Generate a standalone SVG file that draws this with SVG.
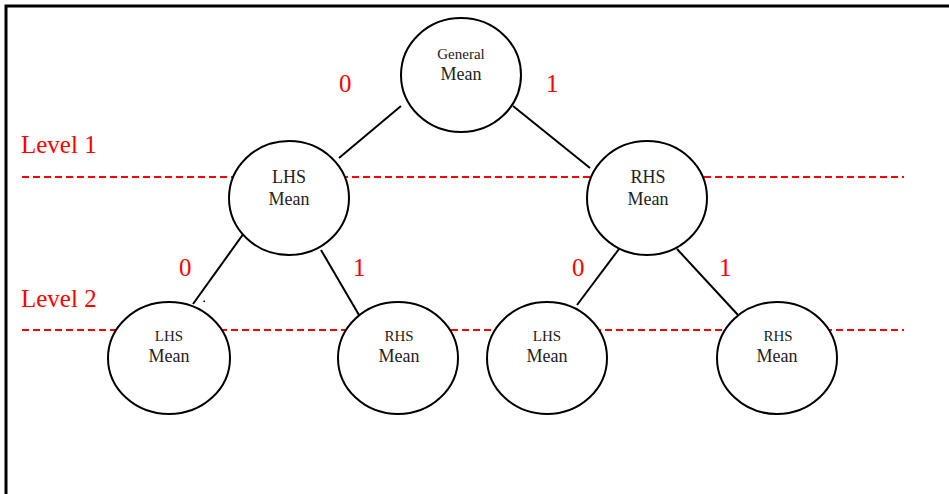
<svg xmlns="http://www.w3.org/2000/svg" width="949" height="494" viewBox="0 0 949 494">
  <style>
    .frame { fill: none; stroke: #000; stroke-width: 3; }
    .level { stroke: #ff0000; stroke-width: 2; stroke-dasharray: 7 4; fill: none; }
    .edge { stroke: #000; stroke-width: 2; fill: none; }
    .node ellipse { fill: #fff; stroke: #000; stroke-width: 2; }
    .lbl { font-family: "Liberation Serif", "Times New Roman", serif; fill: #222; text-anchor: middle; }
    .red { font-family: "Liberation Serif", "Times New Roman", serif; fill: #ff0000; }
  </style>

  <rect width="949" height="494" fill="#fff"/>
  <!-- page frame: top and left rules -->
  <path class="frame" d="M6,494 V6 H949"/>

  <!-- level guides -->
  <g id="levels">
    <line class="level" x1="22" y1="177" x2="904" y2="177"/>
    <line class="level" x1="22" y1="330" x2="904" y2="330"/>
    <text class="red" x="21" y="153" font-size="25">Level 1</text>
    <text class="red" x="21" y="307" font-size="25">Level 2</text>
  </g>

  <!-- branches -->
  <g id="connectors">
    <line class="edge" x1="401" y1="106" x2="339" y2="158"/>
    <line class="edge" x1="513" y1="106" x2="590" y2="168"/>
    <line class="edge" x1="244" y1="233" x2="193" y2="304"/>
    <line class="edge" x1="321" y1="250" x2="359" y2="315"/>
    <line class="edge" x1="619" y1="249" x2="577" y2="305"/>
    <line class="edge" x1="677" y1="249" x2="738" y2="315"/>
    <rect x="203.5" y="300.5" width="1.5" height="1.5" fill="#000"/>
  </g>

  <!-- branch labels -->
  <g id="branch-labels" font-size="25">
    <text class="red" x="339" y="92">0</text>
    <text class="red" x="546" y="92">1</text>
    <text class="red" x="179" y="276">0</text>
    <text class="red" x="353" y="276">1</text>
    <text class="red" x="572" y="276">0</text>
    <text class="red" x="719" y="276">1</text>
  </g>

  <g id="general-mean" class="node">
    <ellipse cx="461" cy="75" rx="60" ry="57"/>
    <text class="lbl" x="461" y="59" font-size="15">General</text>
    <text class="lbl" x="461" y="80" font-size="18">Mean</text>
  </g>

  <g id="l1-lhs" class="node">
    <ellipse cx="289" cy="198" rx="60" ry="57"/>
    <text class="lbl" x="289" y="183" font-size="18">LHS</text>
    <text class="lbl" x="289" y="205" font-size="18">Mean</text>
  </g>

  <g id="l1-rhs" class="node">
    <ellipse cx="647" cy="198" rx="60" ry="57"/>
    <text class="lbl" x="648" y="183" font-size="18">RHS</text>
    <text class="lbl" x="648" y="205" font-size="18">Mean</text>
  </g>

  <g id="l2-lhs-a" class="node">
    <ellipse cx="169" cy="358" rx="61" ry="56"/>
    <text class="lbl" x="169" y="341" font-size="15">LHS</text>
    <text class="lbl" x="169" y="362" font-size="18">Mean</text>
  </g>

  <g id="l2-rhs-a" class="node">
    <ellipse cx="398" cy="358" rx="60" ry="56"/>
    <text class="lbl" x="399" y="341" font-size="15">RHS</text>
    <text class="lbl" x="399" y="362" font-size="18">Mean</text>
  </g>

  <g id="l2-lhs-b" class="node">
    <ellipse cx="547" cy="358" rx="60" ry="56"/>
    <text class="lbl" x="547" y="341" font-size="15">LHS</text>
    <text class="lbl" x="547" y="362" font-size="18">Mean</text>
  </g>

  <g id="l2-rhs-b" class="node">
    <ellipse cx="777" cy="358" rx="60" ry="56"/>
    <text class="lbl" x="778" y="341" font-size="15">RHS</text>
    <text class="lbl" x="777" y="362" font-size="18">Mean</text>
  </g>
</svg>
